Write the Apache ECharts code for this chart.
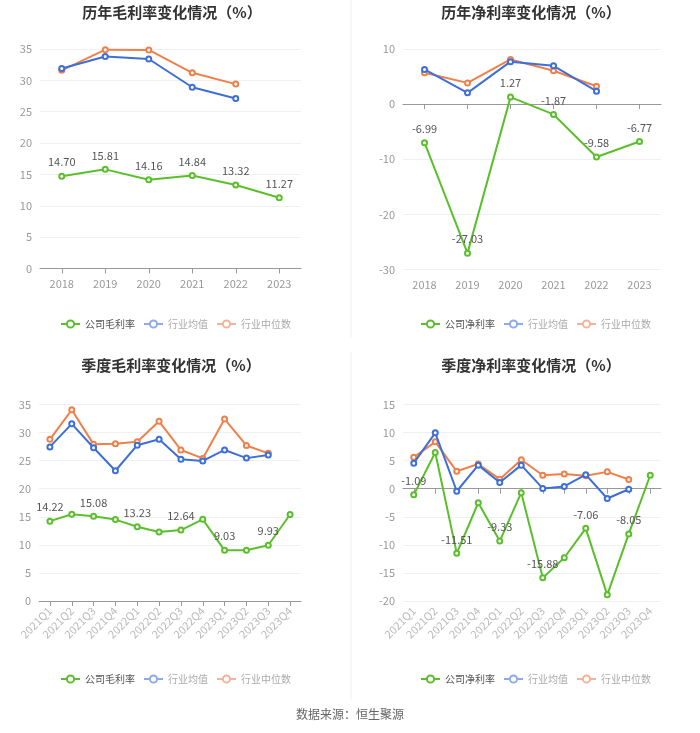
<!DOCTYPE html>
<html><head><meta charset="utf-8">
<script src="https://cdn.jsdelivr.net/npm/echarts@6/dist/echarts.min.js"></script>
<style>html,body{margin:0;padding:0;background:#fff}#c{width:700px;height:733px}</style>
</head><body><div id="c"></div>
<script>
var years = ['2018','2019','2020','2021','2022','2023'];
var quarters = ['2021Q1','2021Q2','2021Q3','2021Q4','2022Q1','2022Q2','2022Q3','2022Q4','2023Q1','2023Q2','2023Q3','2023Q4'];

var yearGrossCompany = [14.70, 15.81, 14.16, 14.84, 13.32, 11.27];
var yearGrossAvg = [31.9, 33.8, 33.4, 28.9, 27.1];
var yearGrossMedian = [31.6, 34.9, 34.85, 31.2, 29.4];

var yearNetCompany = [-6.99, -27.03, 1.27, -1.87, -9.58, -6.77];
var yearNetAvg = [6.3, 2.05, 7.7, 6.95, 2.35];
var yearNetMedian = [5.7, 3.85, 8.1, 6.05, 3.25];

var qGrossCompany = [14.22, 15.45, 15.08, 14.5, 13.23, 12.3, 12.64, 14.55, 9.03, 9.05, 9.93, 15.4];
var qGrossAvg = [27.45, 31.55, 27.3, 23.2, 27.75, 28.8, 25.25, 24.95, 26.9, 25.45, 26.0];
var qGrossMedian = [28.8, 34.05, 27.9, 28.0, 28.35, 32.0, 26.9, 25.4, 32.4, 27.7, 26.3];

var qNetCompany = [-1.09, 6.45, -11.51, -2.5, -9.33, -0.7, -15.88, -12.3, -7.06, -18.9, -8.05, 2.4];
var qNetAvg = [4.55, 9.95, -0.45, 4.2, 1.1, 4.2, 0.05, 0.4, 2.5, -1.75, -0.1];
var qNetMedian = [5.6, 8.35, 3.1, 4.4, 1.7, 5.15, 2.4, 2.6, 2.3, 3.0, 1.65];

var titles = ['历年毛利率变化情况（%）','历年净利率变化情况（%）','季度毛利率变化情况（%）','季度净利率变化情况（%）'];
var companyNames = ['公司毛利率','公司净利率','公司毛利率','公司净利率'];
var avgName = '行业均值', medName = '行业中位数';

var GREEN = '#5bbf2c', BLUE = '#3e6fd8', ORANGE = '#f0804a';
var BLUE_L = '#8eaaea', ORANGE_L = '#f5b49a';

var chart = echarts.init(document.getElementById('c'));

var grids = [
  {left:40, top:49, width:261, height:219.5},
  {left:403, top:49, width:258, height:220.5},
  {left:39, top:404.5, width:262, height:196.5},
  {left:403, top:404.5, width:258, height:196.5}
];
var yCfg = [
  {min:0,max:35,interval:5},
  {min:-30,max:10,interval:10},
  {min:0,max:35,interval:5},
  {min:-20,max:15,interval:5}
];
var titleX = [167, 526, 166, 526];
var titleY = [0, 0, 353, 353];
var legendX = [55, 415, 55, 415];
var legendY = [314, 314, 669, 669];

var option = {
  animation:false,
  textStyle:{fontFamily:'"Noto Sans CJK SC","Noto Sans",sans-serif'},
  title:[], legend:[], grid:grids, xAxis:[], yAxis:[], series:[],
  graphic:[
    {type:'line', shape:{x1:351,y1:0,x2:351,y2:338}, style:{stroke:'#f0f0f0',lineWidth:1}},
    {type:'line', shape:{x1:351,y1:352,x2:351,y2:700}, style:{stroke:'#f0f0f0',lineWidth:1}},
    {type:'text', left:'center', top:708, style:{text:'数据来源：恒生聚源', fill:'#666', fontSize:12, fontFamily:'"Noto Sans CJK SC",sans-serif'}}
  ]
};

var cats = [years, years, quarters, quarters];
var comp = [yearGrossCompany, yearNetCompany, qGrossCompany, qNetCompany];
var avg = [yearGrossAvg, yearNetAvg, qGrossAvg, qNetAvg];
var med = [yearGrossMedian, yearNetMedian, qGrossMedian, qNetMedian];

for (var i=0;i<4;i++){
  option.title.push({text:titles[i], left:titleX[i], top:titleY[i], textAlign:'center',
    textStyle:{fontSize:15, fontWeight:'bold', color:'#333'}});
  option.legend.push({
    left:legendX[i], top:legendY[i], orient:'horizontal', width:300,
    itemWidth:19, itemHeight:9, itemGap:8,
    data:[
      {name:companyNames[i], textStyle:{color:'#555'}},
      {name:avgName, itemStyle:{color:BLUE_L, borderColor:BLUE_L}, lineStyle:{color:BLUE_L}, textStyle:{color:'#aaa'}},
      {name:medName, itemStyle:{color:ORANGE_L, borderColor:ORANGE_L}, lineStyle:{color:ORANGE_L}, textStyle:{color:'#aaa'}}
    ],
    textStyle:{fontSize:10, color:'#666'}
  });
  var quarterly = i>=2;
  option.xAxis.push({
    type:'category', gridIndex:i, data:cats[i], boundaryGap:true,
    axisLine:{lineStyle:{color:'#999'}},
    axisTick:{show:true, alignWithLabel:true, lineStyle:{color:'#999'}},
    axisLabel:{color: quarterly ? '#bbb' : '#999', fontSize:11, rotate: quarterly ? 45 : 0, interval:0, margin: quarterly?8:10}
  });
  option.yAxis.push({
    type:'value', gridIndex:i, min:yCfg[i].min, max:yCfg[i].max, interval:yCfg[i].interval,
    axisLine:{show:false}, axisTick:{show:false},
    axisLabel:{color:'#999', fontSize:11},
    splitLine:{lineStyle:{color:'#eef0f3'}}
  });
  var compData = comp[i].map(function(v, idx){
    return {value:v, label:{show: !quarterly || idx%2===0}};
  });
  option.series.push({
    name:companyNames[i], type:'line', xAxisIndex:i, yAxisIndex:i, data:compData,
    symbol:'emptyCircle', symbolSize:5, color:GREEN, lineStyle:{width:2},
    label:{position:'top', color:'#555', fontSize:11, formatter:function(p){return p.value.toFixed(2);}},
    z:3
  });
  option.series.push({
    name:avgName, type:'line', xAxisIndex:i, yAxisIndex:i, data:avg[i],
    symbol:'emptyCircle', symbolSize:5, color:BLUE, lineStyle:{width:2}, z:2
  });
  option.series.push({
    name:medName, type:'line', xAxisIndex:i, yAxisIndex:i, data:med[i],
    symbol:'emptyCircle', symbolSize:5, color:ORANGE, lineStyle:{width:2}, z:1
  });
}
chart.setOption(option);
</script></body></html>
